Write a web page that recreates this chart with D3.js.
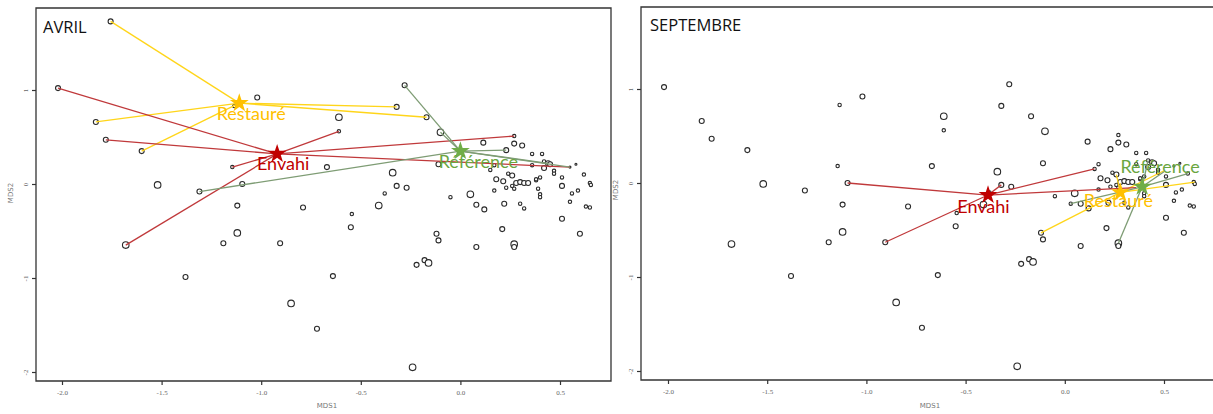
<!DOCTYPE html>
<html>
<head>
<meta charset="utf-8">
<script src="https://cdn.jsdelivr.net/npm/d3@7"></script>
<style>
  html, body { margin: 0; padding: 0; background: #fff; }
  svg { display: block; }
</style>
</head>
<body>
<svg id="chart" width="1213" height="414"></svg>
<script>
// ---------- DATA ----------
const panelTitles = ["AVRIL", "SEPTEMBRE"];
const groupNames = ["Restauré", "Envahi", "Référence"];
const xTicks = [-2, -1.5, -1, -0.5, 0, 0.5];
const xTickLabels = ["-2.0", "-1.5", "-1.0", "-0.5", "0.0", "0.5"];
const yTicks = [-2, -1, 0, 1];
const yTickLabels = ["-2", "-1", "0", "1"];

// site scores [MDS1, MDS2, sizeClass]
const sites = [
  [-2.02, 1.02, 3], [-1.83, 0.66, 3], [-1.78, 0.47, 3], [-1.60, 0.35, 3],
  [-1.52, -0.01, 4], [-1.31, -0.08, 3], [-1.135, 0.83, 2], [-1.02, 0.92, 3],
  [-1.145, 0.18, 2], [-1.095, 0.0, 3], [-0.61, 0.71, 4], [-0.61, 0.56, 2],
  [-0.67, 0.18, 3], [-0.28, 1.05, 3], [-0.32, 0.82, 3], [-0.17, 0.71, 3],
  [-0.34, 0.12, 4], [-0.32, -0.02, 3], [-0.27, -0.04, 3], [-0.38, -0.10, 2],
  [-0.41, -0.23, 4], [-0.545, -0.32, 2], [-0.55, -0.46, 3], [-1.12, -0.23, 3],
  [-0.79, -0.25, 3], [-1.68, -0.65, 4], [-1.38, -0.99, 3], [-1.19, -0.63, 3],
  [-1.12, -0.52, 4], [-0.905, -0.63, 3], [-0.85, -1.27, 4], [-0.72, -1.54, 3],
  [-0.64, -0.98, 3], [-0.11, 0.21, 3], [-0.10, 0.55, 4], [0.115, 0.44, 3],
  [0.27, 0.43, 3], [0.31, 0.41, 3], [0.23, 0.36, 3], [0.27, 0.51, 2],
  [0.36, 0.32, 2], [0.41, 0.32, 2], [0.42, 0.24, 2], [0.44, 0.22, 3],
  [0.45, 0.21, 3], [0.36, 0.20, 2], [0.42, 0.17, 3], [0.47, 0.14, 2],
  [0.47, 0.11, 2], [0.51, 0.07, 2], [0.55, 0.18, 1], [0.58, 0.21, 1],
  [0.62, 0.10, 2], [0.65, 0.01, 2], [0.655, -0.01, 2], [0.51, -0.02, 3],
  [0.59, -0.07, 2], [0.56, -0.10, 2], [0.55, -0.19, 2], [0.51, -0.37, 3],
  [0.60, -0.53, 3], [0.63, -0.24, 2], [0.65, -0.25, 2], [0.15, 0.15, 2],
  [0.17, 0.20, 2], [0.18, 0.05, 3], [0.215, 0.03, 3], [0.24, 0.11, 2],
  [0.26, 0.09, 3], [0.26, -0.02, 2], [0.27, -0.05, 2], [0.23, -0.04, 2],
  [0.17, -0.07, 2], [0.28, 0.01, 3], [0.30, 0.02, 3], [0.32, 0.01, 3],
  [0.34, 0.01, 3], [0.38, 0.04, 2], [0.38, 0.05, 2], [0.40, 0.07, 2],
  [0.39, -0.05, 2], [0.40, -0.11, 2], [0.40, -0.14, 2], [0.05, -0.11, 4],
  [-0.05, -0.14, 2], [0.08, -0.22, 3], [0.12, -0.27, 3], [0.22, -0.21, 3],
  [0.30, -0.21, 2], [0.32, -0.26, 2], [0.21, -0.48, 3], [-0.12, -0.53, 3],
  [-0.11, -0.60, 3], [0.08, -0.67, 3], [0.27, -0.64, 4], [0.27, -0.67, 3],
  [-0.22, -0.86, 3], [-0.18, -0.81, 3], [-0.16, -0.84, 4], [-0.24, -1.95, 4]
];
const avrilExtraSites = [[-1.756, 1.73, 3]];
const septExtraSites = [[0.03, -0.22, 2]];

// group centroids per panel (Restauré, Envahi, Référence)
const avrilCentroids = [[-1.11, 0.86], [-0.92, 0.32], [0.0, 0.35]];
const septCentroids = [[0.28, -0.10], [-0.387, -0.128], [0.39, -0.04]];

// spider end points (member sites) per group
const avrilRestaure = [[-1.756, 1.73], [-1.83, 0.66], [-1.60, 0.35], [-0.32, 0.82], [-0.17, 0.71]];
const avrilEnvahi = [[-2.02, 1.02], [-1.78, 0.47], [-1.145, 0.18], [-0.61, 0.56], [-1.68, -0.65], [0.27, 0.51], [0.55, 0.18]];
const avrilReference = [[-0.28, 1.05], [-0.10, 0.55], [0.23, 0.36], [0.44, 0.22], [0.55, 0.18], [-1.31, -0.08]];
const septRestaure = [[-0.12, -0.53], [0.26, 0.09], [0.50, 0.13], [0.655, 0.01]];
const septEnvahi = [[-1.095, 0.0], [-0.905, -0.63], [-0.32, -0.02], [0.15, 0.15], [0.36, -0.05]];
const septReference = [[0.27, -0.64], [0.03, -0.22], [0.62, 0.10], [0.42, 0.24], [0.50, 0.12]];

// label positions (data coords) per panel
const avrilLabelPos = [[-1.05, 0.73], [-0.89, 0.20], [0.09, 0.22]];
const septLabelPos = [[0.27, -0.21], [-0.41, -0.27], [0.48, 0.16]];

// ---------- STYLE ----------
const lineColors = ["#FFD51A", "#C0393B", "#7E9C74"];
const starColors = ["#FFC000", "#C00000", "#70AD47"];
const labelColors = ["#FFC000", "#C00000", "#6AA63F"];
const sizeRadius = {1: 1.0, 2: 1.7, 3: 2.5, 4: 3.3};

const svg = d3.select("#chart");

function drawPanel(cfg) {
  const g = svg.append("g");
  const x = d3.scaleLinear().domain([-2, 0.5]).range(cfg.xRange);
  const y = d3.scaleLinear().domain([-2, 1]).range(cfg.yRange);

  // frame
  g.append("path")
    .attr("d", `M${cfg.box[0]},${cfg.box[3]} L${cfg.box[0]},${cfg.box[1]} L${cfg.box[2]},${cfg.box[1]} L${cfg.box[2]},${cfg.box[3]} Z`)
    .attr("fill", "none").attr("stroke", "#333").attr("stroke-width", 1.3);

  // axes
  const xa = g.append("g").attr("transform", `translate(0,${cfg.box[3]})`)
    .call(d3.axisBottom(x).tickValues(xTicks).tickFormat((d, i) => xTickLabels[i]).tickSize(4).tickPadding(5));
  xa.select(".domain").remove();
  xa.selectAll("line").attr("stroke", "#333").attr("stroke-width", 1.2);
  xa.selectAll("text").attr("font-family", "Liberation Serif, serif").attr("font-size", 7).attr("fill", "#666");

  const ya = g.append("g").attr("transform", `translate(${cfg.box[0]},0)`)
    .call(d3.axisLeft(y).tickValues(yTicks).tickFormat((d, i) => yTickLabels[i]).tickSize(4).tickPadding(6));
  ya.select(".domain").remove();
  ya.selectAll("line").attr("stroke", "#333").attr("stroke-width", 1.2);
  ya.selectAll("text")
    .attr("font-family", "Liberation Serif, serif").attr("font-size", 7).attr("fill", "#666")
    .attr("text-anchor", "middle").attr("dy", null).attr("x", null)
    .attr("transform", "translate(-8,0) rotate(-90)");

  // axis titles
  g.append("text").attr("x", cfg.xTitle[0]).attr("y", cfg.xTitle[1])
    .attr("text-anchor", "middle").attr("font-family", "DejaVu Sans, sans-serif")
    .attr("font-size", 7).attr("fill", "#777").text("MDS1");
  g.append("text").attr("transform", `translate(${cfg.yTitle[0]},${cfg.yTitle[1]}) rotate(-90)`)
    .attr("text-anchor", "middle").attr("font-family", "DejaVu Sans, sans-serif")
    .attr("font-size", 7).attr("fill", "#777").text("MDS2");

  // title
  g.append("text").attr("x", cfg.titlePos[0]).attr("y", cfg.titlePos[1])
    .attr("font-family", "Open Sans, sans-serif").attr("font-size", 16.5)
    .attr("fill", "#111").text(cfg.title);

  // site points
  const allSites = sites.concat(cfg.extra);
  g.append("g").selectAll("circle").data(allSites).join("circle")
    .attr("cx", d => x(d[0])).attr("cy", d => y(d[1]))
    .attr("r", d => sizeRadius[d[2]])
    .attr("fill", "#fff").attr("stroke", "#2a2a2a").attr("stroke-width", 1.1);

  // spiders
  cfg.spiders.forEach((members, gi) => {
    const c = cfg.centroids[gi];
    g.append("g").selectAll("line").data(members).join("line")
      .attr("x1", x(c[0])).attr("y1", y(c[1]))
      .attr("x2", d => x(d[0])).attr("y2", d => y(d[1]))
      .attr("stroke", lineColors[gi]).attr("stroke-width", 1.3);
  });

  // centroid stars
  const star = d3.symbol().type(d3.symbolStar).size(110);
  cfg.centroids.forEach((c, gi) => {
    g.append("path").attr("d", star())
      .attr("transform", `translate(${x(c[0])},${y(c[1])})`)
      .attr("fill", starColors[gi]);
  });

  // labels
  cfg.labelPos.forEach((p, gi) => {
    g.append("text").attr("x", x(p[0])).attr("y", y(p[1]))
      .attr("text-anchor", "middle").attr("dominant-baseline", "middle")
      .attr("font-family", "Lato, sans-serif").attr("font-size", 18)
      .attr("fill", labelColors[gi]).text(groupNames[gi]);
  });
}

drawPanel({
  title: panelTitles[0], titlePos: [43, 33],
  box: [36, 8, 611, 381], xRange: [62, 560], yRange: [372, 90],
  xTitle: [327, 408], yTitle: [13, 193],
  extra: avrilExtraSites, centroids: avrilCentroids,
  spiders: [avrilRestaure, avrilEnvahi, avrilReference], labelPos: avrilLabelPos
});
drawPanel({
  title: panelTitles[1], titlePos: [650, 31],
  box: [641, 7, 1216, 380], xRange: [668, 1164], yRange: [371, 89],
  xTitle: [930, 408], yTitle: [618, 190],
  extra: septExtraSites, centroids: septCentroids,
  spiders: [septRestaure, septEnvahi, septReference], labelPos: septLabelPos
});
</script>
</body>
</html>
